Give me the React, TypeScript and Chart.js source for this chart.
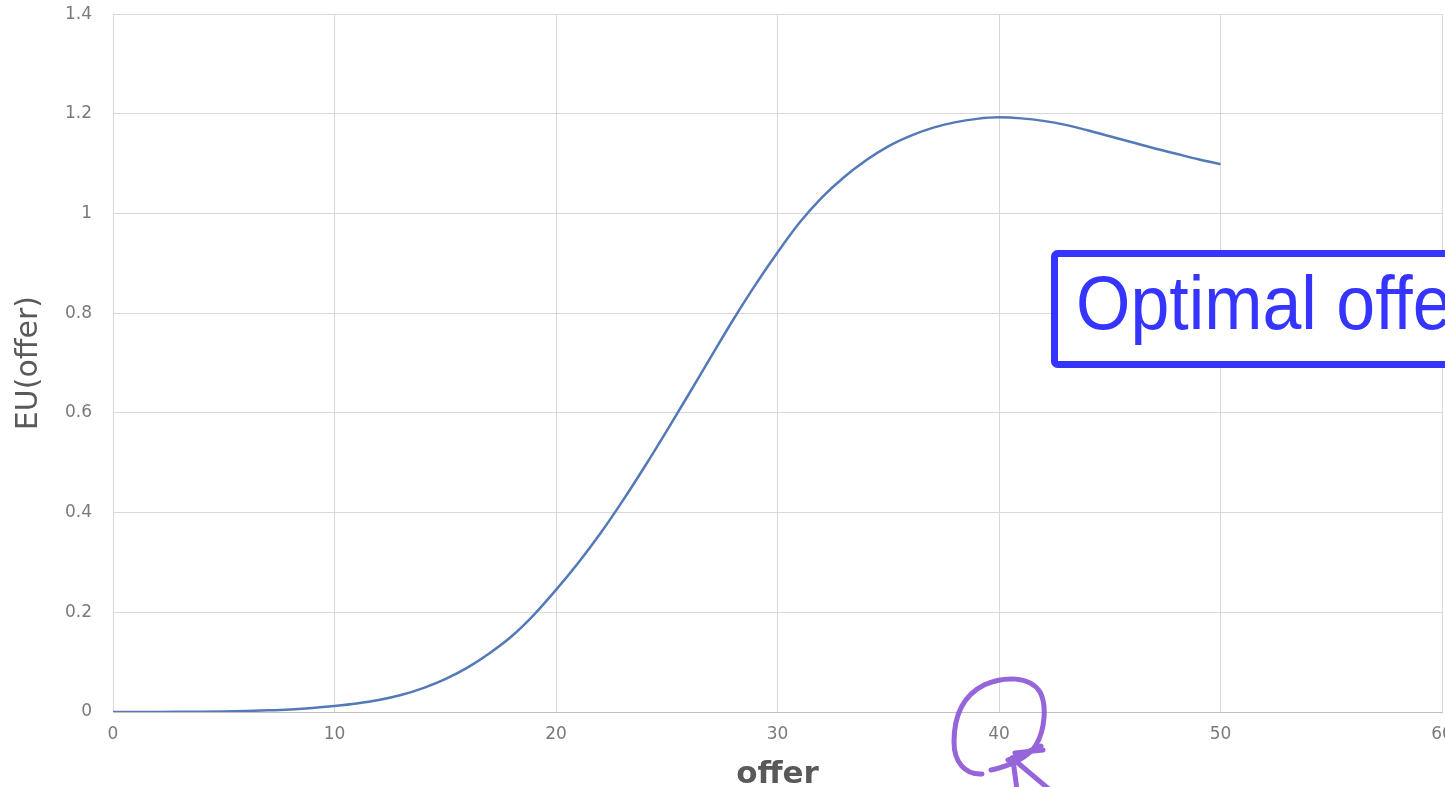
import React, { useEffect, useRef } from "react";
import { Chart, registerables } from "chart.js";

Chart.register(...registerables);

// ---- data ----
const offers = [
  0, 1, 2, 3, 4, 5, 6, 7, 8, 9, 10, 11, 12, 13, 14, 15, 16, 17, 18, 19, 20,
  21, 22, 23, 24, 25, 26, 27, 28, 29, 30, 31, 32, 33, 34, 35, 36, 37, 38, 39,
  40, 41, 42, 43, 44, 45, 46, 47, 48, 49, 50,
];
const euValues = [
  0, 0.0001, 0.0002, 0.0004, 0.0007, 0.0012, 0.002, 0.0033, 0.0052, 0.008,
  0.012, 0.017, 0.024, 0.034, 0.048, 0.066, 0.089, 0.118, 0.152, 0.195, 0.245,
  0.299, 0.358, 0.423, 0.492, 0.564, 0.638, 0.713, 0.787, 0.857, 0.922, 0.982,
  1.032, 1.073, 1.107, 1.135, 1.156, 1.172, 1.183, 1.19, 1.193, 1.191, 1.186,
  1.178, 1.167, 1.155, 1.143, 1.131, 1.12, 1.109, 1.099,
];
const xRange = [0, 60];
const yRange = [0, 1.4];
const xStep = 10;
const yStep = 0.2;
const xTitle = "offer";
const yTitle = "EU(offer)";
const calloutText = "Optimal offer";

const FONT = "'DejaVu Sans', sans-serif";

export default function App() {
  const canvasRef = useRef<HTMLCanvasElement | null>(null);

  useEffect(() => {
    const canvas = canvasRef.current;
    if (!canvas) return;
    const chart = new Chart(canvas, {
      type: "line",
      data: {
        datasets: [
          {
            data: offers.map((x, i) => ({ x, y: euValues[i] })),
            borderColor: "#5479b8",
            borderWidth: 2.5,
            pointRadius: 0,
            fill: false,
            cubicInterpolationMode: "monotone",
          },
        ],
      },
      options: {
        animation: false,
        responsive: false,
        maintainAspectRatio: false,
        layout: { padding: { top: 0, right: 58, left: 0, bottom: 0 } },
        plugins: { legend: { display: false }, tooltip: { enabled: false } },
        scales: {
          x: {
            type: "linear",
            min: xRange[0],
            max: xRange[1],
            ticks: {
              stepSize: xStep,
              color: "#7a7a7a",
              font: { family: FONT, size: 17 },
              padding: 12,
              maxRotation: 0,
            },
            grid: { color: "#d9d9d9", lineWidth: 1, drawTicks: false },
            border: { color: "#bfbfbf", width: 1 },
            title: {
              display: true,
              text: xTitle,
              color: "#595959",
              font: { family: FONT, size: 31, weight: "bold" },
              padding: { top: 0, bottom: 6 },
            },
            afterFit: (s: any) => {
              s.height = 88;
            },
          },
          y: {
            type: "linear",
            min: yRange[0],
            max: yRange[1],
            ticks: {
              stepSize: yStep,
              color: "#7a7a7a",
              font: { family: FONT, size: 17 },
              padding: 21,
              callback: (v: any) => String(Math.round(Number(v) * 10) / 10),
            },
            grid: { color: "#d9d9d9", lineWidth: 1, drawTicks: false },
            border: { color: "#d9d9d9", width: 1 },
            title: {
              display: true,
              text: yTitle,
              color: "#595959",
              font: { family: FONT, size: 30 },
              padding: { top: 11, bottom: 0 },
            },
            afterFit: (s: any) => {
              s.width = 113;
            },
          },
        },
      },
    });
    return () => chart.destroy();
  }, []);

  return (
    <div
      style={{
        position: "fixed",
        left: 0,
        top: 0,
        width: 1445,
        height: 787,
        overflow: "hidden",
        background: "#ffffff",
      }}
    >
      <canvas
        ref={canvasRef}
        width={1500}
        height={817}
        style={{ position: "absolute", left: 0, top: -17, width: 1500, height: 817 }}
      />
      <svg
        width={1445}
        height={787}
        style={{ position: "absolute", left: 0, top: 0, pointerEvents: "none" }}
      >
        <rect
          x={1054.5}
          y={253.5}
          width={500}
          height={111}
          rx={3}
          fill="#ffffff"
          stroke="#3535ff"
          strokeWidth={7}
        />
        <text
          transform="translate(1076 329) scale(0.92 1)"
          x={0}
          y={0}
          fill="#3535ff"
          fontFamily="'Liberation Sans', sans-serif"
          fontSize={76}
        >
          {calloutText}
        </text>
        <g
          fill="none"
          stroke="#8b55d6"
          strokeWidth={5}
          strokeLinecap="round"
          strokeLinejoin="round"
          opacity={0.9}
        >
          <path d="M 982 774 C 965 775, 954 762, 954 742 C 954 716, 962 696, 984 685 C 1004 676, 1030 676, 1040 692 C 1047 705, 1045 730, 1036 745 C 1029 757, 1010 766, 991 770" />
          <path d="M 1012 758 L 1050 790" />
          <path d="M 1013 760 L 1017 790" />
          <path d="M 1008 760 L 1041 746" />
          <path d="M 1015 753 L 1043 750" />
        </g>
      </svg>
    </div>
  );
}
